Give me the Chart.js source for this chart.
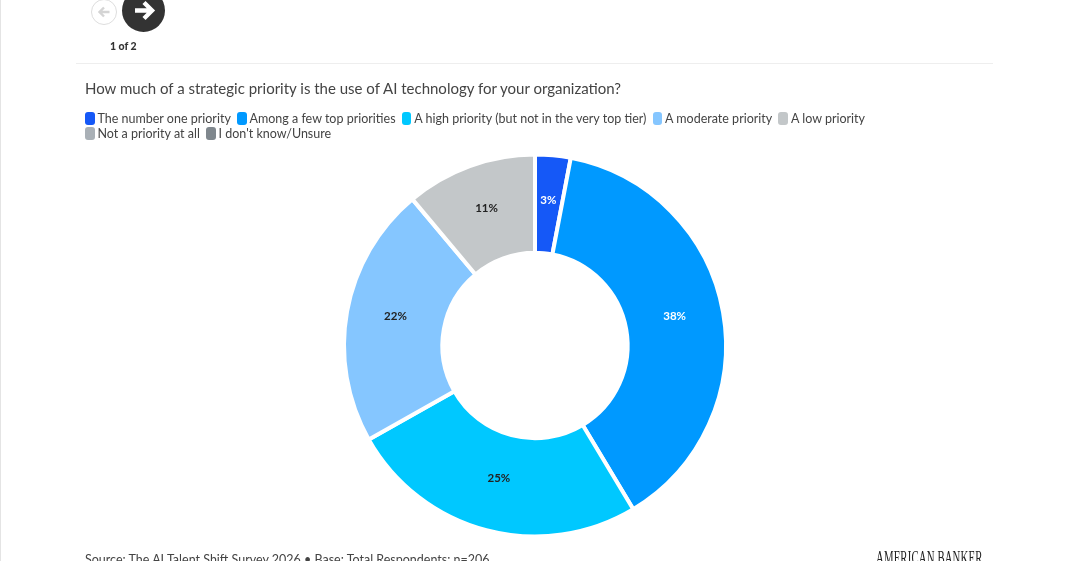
<!DOCTYPE html>
<html>
<head>
<meta charset="utf-8">
<script src="https://cdn.jsdelivr.net/npm/chart.js@4"></script>
<style>
html, body { margin: 0; padding: 0; background: #fff; }
body { width: 1068px; height: 561px; overflow: hidden; position: relative; font-family: Lato, sans-serif; color: #444; }
#page { position: absolute; left: 0; top: 0; width: 1068px; height: 561px; overflow: hidden; }
#chart { position: absolute; left: 0; top: 0; }
.edge { position: absolute; left: 0; top: 0; width: 1px; height: 561px; background: #e4e4e4; }
.prev { position: absolute; left: 91px; top: -1px; width: 24px; height: 24px; border: 1px solid #ddd; border-radius: 50%; }
.next { position: absolute; left: 122px; top: -11px; width: 43px; height: 43px; background: #333; border-radius: 50%; }
.prev svg, .next svg { position: absolute; left: 0; top: 0; }
.pager { position: absolute; left: 110px; top: 40px; font-size: 10.5px; font-weight: 900; color: #333; }
.rule { position: absolute; left: 76px; top: 63px; width: 917px; height: 1px; background: #eee; }
.question { position: absolute; left: 85px; top: 78px; font-size: 15px; line-height: 20px; white-space: nowrap; }
#legend { position: absolute; left: 85px; top: 111px; width: 800px; font-size: 12.5px; line-height: 15px; }
#legend span.item { display: inline-block; margin-right: 3px; white-space: nowrap; }
#legend i { display: inline-block; width: 9.5px; height: 13px; border-radius: 3px; margin-right: 3px; vertical-align: -2px; }
.source { position: absolute; left: 85px; top: 552px; font-size: 12.5px; line-height: 16px; white-space: nowrap; }
.logo { position: absolute; left: 876px; top: 548px; font-family: "Liberation Serif", serif; font-size: 18px; line-height: 20px; color: #222; white-space: nowrap; transform: scaleX(0.6); transform-origin: left top; letter-spacing: 0.2px; }
</style>
</head>
<body>
<div id="page">
    <canvas id="chart" width="1068" height="561"></canvas>
    <div class="edge"></div>
    <div class="prev"><svg width="24" height="24"><path d="M17.5 12H8M12 7.5L7.5 12L12 16.5" fill="none" stroke="#d4d4d4" stroke-width="2.4"/></svg></div>
    <div class="next"><svg width="43" height="43"><path d="M13 21.5H29M22 13.5L30 21.5L22 29.5" fill="none" stroke="#fff" stroke-width="4.4"/></svg></div>
    <div class="pager">1 of 2</div>
    <div class="rule"></div>
    <div class="question">How much of a strategic priority is the use of AI technology for your organization?</div>
    <div id="legend"></div>
    <div class="source">Source: The AI Talent Shift Survey 2026 • Base: Total Respondents: n=206</div>
    <div class="logo">AMERICAN BANKER</div>
</div>
<script>
const categories = [
    "The number one priority",
    "Among a few top priorities",
    "A high priority (but not in the very top tier)",
    "A moderate priority",
    "A low priority",
    "Not a priority at all",
    "I don't know/Unsure"
];
const shares = [3, 38.4, 25.4, 22.1, 11.1, 0, 0];
const colors = ["#1558f7", "#0099ff", "#00c8ff", "#85c6ff", "#c3c7c9", "#a9b0b6", "#7f878d"];
const labelColors = ["#fff", "#fff", "#222", "#222", "#222", "#222", "#222"];

// legend is plain html so the wrap lands where the original does
const legend = document.getElementById("legend");
categories.forEach((name, i) => {
    const item = document.createElement("span");
    item.className = "item";
    const box = document.createElement("i");
    box.style.background = colors[i];
    item.appendChild(box);
    item.appendChild(document.createTextNode(name));
    legend.appendChild(item);
    legend.appendChild(document.createTextNode(" "));
});

const sliceLabels = {
    id: "sliceLabels",
    afterDatasetsDraw(chart) {
        const ctx = chart.ctx;
        ctx.save();
        ctx.font = "bold 11.5px Lato";
        ctx.textAlign = "center";
        ctx.textBaseline = "middle";
        chart.getDatasetMeta(0).data.forEach((arc, i) => {
            if (!shares[i]) return;
            const pos = arc.tooltipPosition();
            ctx.fillStyle = labelColors[i];
            ctx.fillText(Math.round(shares[i]) + "%", pos.x, pos.y - 4);
        });
        ctx.restore();
    }
};

new Chart(document.getElementById("chart"), {
    type: "doughnut",
    data: {
        labels: categories,
        datasets: [{
            data: shares,
            backgroundColor: colors,
            borderColor: "#fff",
            borderWidth: 4
        }]
    },
    options: {
        responsive: false,
        animation: false,
        cutout: "48.5%",
        layout: { padding: { left: 342, right: 340, top: 152, bottom: 22 } },
        plugins: {
            legend: { display: false },
            tooltip: { enabled: false }
        }
    },
    plugins: [sliceLabels]
});
</script>
</body>
</html>
